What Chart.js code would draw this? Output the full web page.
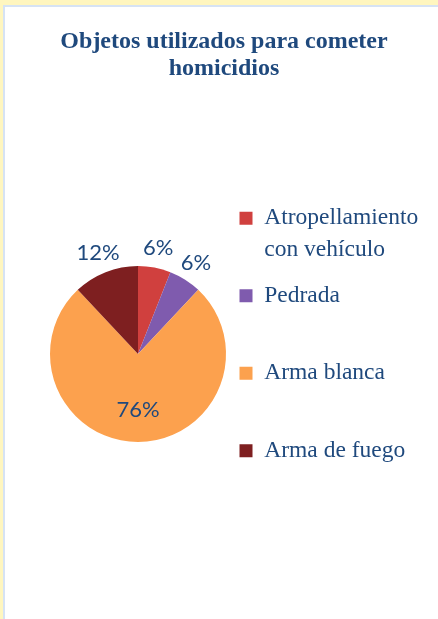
<!DOCTYPE html>
<html lang="es">
<head>
<meta charset="utf-8">
<title>Objetos utilizados para cometer homicidios</title>
<script src="https://cdn.jsdelivr.net/npm/chart.js@4.4.1/dist/chart.umd.min.js"></script>
<style>
  html, body { margin: 0; padding: 0; width: 438px; height: 619px; overflow: hidden; background: #FFF6BF; }
  #frame {
    position: absolute; left: 3px; top: 5px; width: 435px; height: 614px;
    border-left: 2px solid #D6E3F4; border-top: 2px solid #D6E3F4;
    box-sizing: border-box; background: #fff; overflow: hidden;
  }
  #chart { display: block; }
</style>
</head>
<body>
<div id="frame">
  <canvas id="chart" width="433" height="612"></canvas>
</div>
<script>
// Chart data
const titleLines = ['Objetos utilizados para cometer', 'homicidios'];
const categories = [['Atropellamiento', 'con vehículo'], 'Pedrada', 'Arma blanca', 'Arma de fuego'];
const values = [6, 6, 76, 12];
const sliceColors = ['#D0403E', '#7F5BAE', '#FCA14E', '#7E1F20'];

const textColor = '#1F497D';

// percentage labels: small slices outside, big slice inside
const pieLabels = {
  id: 'pieLabels',
  afterDatasetsDraw(chart) {
    const ctx = chart.ctx;
    const meta = chart.getDatasetMeta(0);
    const total = values.reduce((a, b) => a + b, 0);
    ctx.save();
    ctx.font = '22px Lato';
    ctx.fillStyle = textColor;
    ctx.textAlign = 'center';
    ctx.textBaseline = 'middle';
    meta.data.forEach((arc, i) => {
      const p = arc.getProps(['x', 'y', 'startAngle', 'endAngle', 'outerRadius']);
      const share = values[i] / total;
      const mid = (p.startAngle + p.endAngle) / 2;
      const dist = p.outerRadius * (share < 0.2 ? 1.23 : 0.64);
      ctx.fillText(Math.round(share * 100) + '%', p.x + Math.cos(mid) * dist, p.y + Math.sin(mid) * dist);
    });
    ctx.restore();
  }
};

// let the legend text run past the legend box (it is clipped to the box otherwise)
const legendRoom = {
  id: 'legendRoom',
  afterLayout(chart) {
    if (chart.legend) {
      chart.legend.right = chart.width;
      chart.legend.width = chart.legend.right - chart.legend.left;
    }
  }
};

const baseLabels = Chart.overrides.pie.plugins.legend.labels.generateLabels;

const config = {
  type: 'pie',
  data: {
    labels: categories,
    datasets: [{
      data: values,
      backgroundColor: sliceColors,
      borderWidth: 0,
      radius: 88
    }]
  },
  options: {
    responsive: false,
    animation: false,
    layout: {
      padding: { left: 46.5, right: 41.5, top: 0, bottom: 4 }
    },
    plugins: {
      tooltip: { enabled: false },
      title: {
        display: true,
        text: titleLines,
        color: textColor,
        font: { family: '"Liberation Serif", "Times New Roman", serif', size: 24, weight: 'bold', lineHeight: 1.14 },
        padding: { top: 21.2, bottom: 10 }
      },
      legend: {
        position: 'right',
        fullSize: false,
        maxWidth: 172,
        labels: {
          color: textColor,
          boxWidth: 13,
          boxHeight: 13,
          padding: 15,
          font: { family: '"Liberation Serif", "Times New Roman", serif', size: 23.5, lineHeight: 1.33 },
          // every entry gets two lines so the entries are spaced evenly
          generateLabels(chart) {
            return baseLabels(chart).map(item => {
              const lines = [].concat(item.text);
              while (lines.length < 2) lines.push('');
              item.text = lines;
              return item;
            });
          }
        }
      }
    }
  },
  plugins: [pieLabels, legendRoom]
};

new Chart(document.getElementById('chart').getContext('2d'), config);
</script>
</body>
</html>
